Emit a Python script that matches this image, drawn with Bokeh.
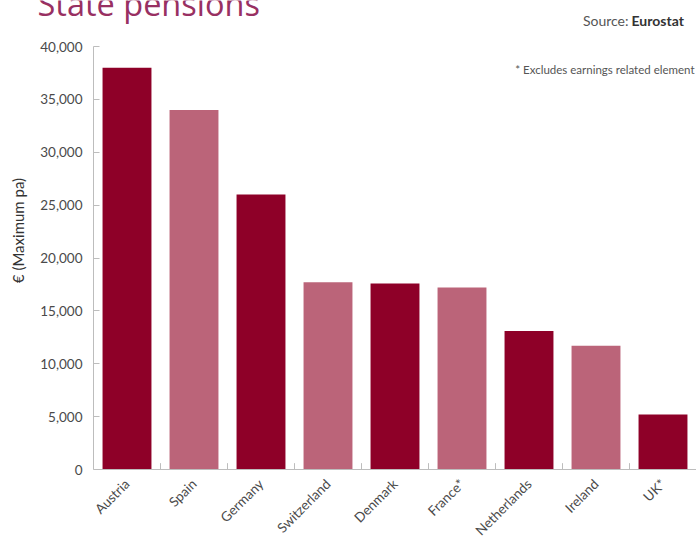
import math
from bokeh.plotting import figure
from bokeh.layouts import column, row
from bokeh.models import Label, NumeralTickFormatter, FixedTicker, ColumnDataSource, Range1d
from bokeh.transform import dodge
from bokeh.embed import file_html
from bokeh.resources import INLINE

countries = ["Austria", "Spain", "Germany", "Switzerland", "Denmark",
             "France*", "Netherlands", "Ireland", "UK*"]
pensions = [38000, 34000, 26000, 17700, 17600, 17200, 13100, 11700, 5200]
bar_colors = ["#8e0028", "#bb6479", "#8e0028", "#bb6479", "#8e0028",
              "#bb6479", "#8e0028", "#bb6479", "#8e0028"]
y_ticks = [0, 5000, 10000, 15000, 20000, 25000, 30000, 35000, 40000]
Y_MAX = 40000

W, H = 696, 539
HEAD_H = 38          # header strip height
STRIP_W = 30         # strip holding the y-axis title
FL, FT, FB = 93, 46, 469   # frame left / top and the x-axis baseline, page pixels
FONT = "Lato"
AXIS_GRAY = "#bdbdbd"
TEXT = "#4a4a4a"


def blank(width, height):
    f = figure(width=width, height=height, output_backend="svg",
               toolbar_location=None, x_axis_location=None, y_axis_location=None,
               min_border=0, outline_line_color=None,
               x_range=Range1d(0, 1), y_range=Range1d(0, 1))
    f.grid.visible = False
    return f


# ---- header: title and source (frame covers the whole strip) ----
head = blank(W, HEAD_H)
head.add_layout(Label(x=37, y=HEAD_H - 3, x_units="screen", y_units="screen",
                      text="State pensions", text_font="Open Sans",
                      text_font_size="32.5px", text_color="#983062",
                      text_baseline="alphabetic"))
head.add_layout(Label(x=628, y=HEAD_H - 20, x_units="screen", y_units="screen",
                      text="Source:", text_font=FONT, text_font_size="14px",
                      text_color="#555555", text_align="right",
                      text_baseline="alphabetic"))
head.add_layout(Label(x=631, y=HEAD_H - 20, x_units="screen", y_units="screen",
                      text="Eurostat", text_font=FONT, text_font_size="14px",
                      text_font_style="bold", text_color="#333333",
                      text_baseline="alphabetic"))

# ---- left strip: y-axis title ----
strip = blank(STRIP_W, H - HEAD_H)
strip.add_layout(Label(x=17, y=H - 230, x_units="screen", y_units="screen",
                       text="€ (Maximum pa)", text_font=FONT, text_font_size="15px",
                       text_color="#333333", angle=math.pi / 2,
                       text_align="center", text_baseline="middle"))

# ---- main chart: frame runs to the bottom edge, x axis fixed at y = 0 ----
src = ColumnDataSource(dict(cat=countries, val=pensions, color=bar_colors))
y_start = -Y_MAX * (H - FB) / (FB - FT)

p = figure(x_range=countries, y_range=(y_start, Y_MAX), width=W - STRIP_W,
           height=H - HEAD_H, output_backend="svg", toolbar_location=None,
           min_border_left=FL - STRIP_W, min_border_right=0,
           min_border_top=FT - HEAD_H, min_border_bottom=0,
           outline_line_color=None)
p.x_range.range_padding = 0
p.grid.visible = False

p.vbar(x="cat", top="val", width=0.73, color="color", line_color=None, source=src)

# ticks at the category boundaries on the x axis
p.segment(x0=dodge("cat", 0.5, range=p.x_range), y0=0,
          x1=dodge("cat", 0.5, range=p.x_range), y1=600,
          line_color=AXIS_GRAY, line_width=1, source=src)

xa = p.xaxis[0]
xa.fixed_location = 0
xa.axis_line_color = AXIS_GRAY
xa.major_tick_line_color = None
xa.minor_tick_line_color = None
xa.major_label_orientation = math.pi / 4
xa.major_label_text_font = FONT
xa.major_label_text_font_size = "13.5px"
xa.major_label_text_color = TEXT
xa.major_label_standoff = 6

ya = p.yaxis[0]
ya.ticker = FixedTicker(ticks=y_ticks)
ya.bounds = (0, Y_MAX)
ya.formatter = NumeralTickFormatter(format="0,0")
ya.axis_line_color = AXIS_GRAY
ya.major_tick_line_color = AXIS_GRAY
ya.major_tick_in = 6
ya.major_tick_out = 0
ya.minor_tick_line_color = None
ya.major_label_text_font = FONT
ya.major_label_text_font_size = "13.5px"
ya.major_label_text_color = TEXT
ya.major_label_standoff = 11

# screen units are relative to the frame's bottom-left corner
p.add_layout(Label(x=694 - FL, y=H - 69, x_units="screen", y_units="screen",
                   text="* Excludes earnings related element", text_font=FONT,
                   text_font_size="11.5px", text_color="#555555",
                   text_align="right", text_baseline="alphabetic"))

layout = column(head, row(strip, p, spacing=0), spacing=0)
open("out.html", "w").write(file_html(layout, INLINE))
